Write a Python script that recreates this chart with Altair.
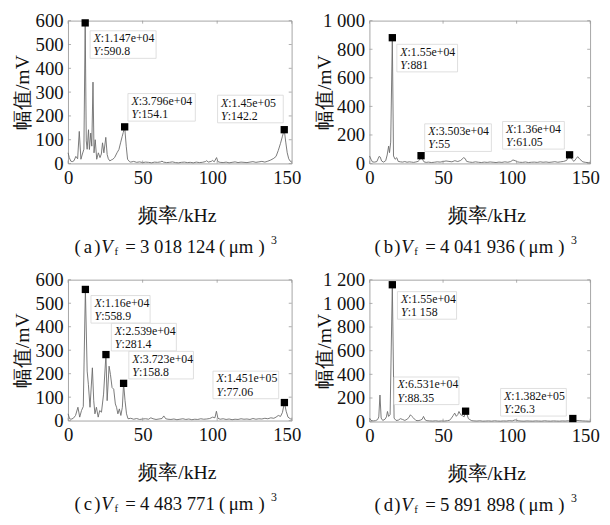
import altair as alt
import pandas as pd

# ---------------- data ----------------
X_TICKS = [0, 50, 100, 150]
X_TITLE = "频率/kHz"
Y_TITLE = "幅值/mV"

A_SPECTRUM = [(0, 45), (0.8, 25), (1.8, 10), (2.8, 8), (4, 12), (5.2, 30), (6.4, 20), (7.5, 135), (8.6, 18),
              (9.6, 40), (10.6, 60), (11.47, 590.8), (12.2, 95), (12.8, 60), (13.7, 142), (14.3, 59), (15.2, 128),
              (15.9, 73), (16.7, 342), (17.4, 45), (18.2, 100), (19.2, 18), (20.3, 45), (21.4, 25), (22.3, 40),
              (23.1, 87), (24.0, 45), (25.3, 110), (26.2, 38), (27.0, 20), (28.0, 11), (29.0, 15), (30.0, 18),
              (31.2, 25), (32.8, 45), (34.1, 59), (35.2, 87), (36.3, 114), (37.0, 130), (37.96, 154.1), (39.0, 73),
              (39.9, 18), (41.2, 8), (42, 6), (44, 9), (46, 5), (48, 7), (50, 4), (52, 6), (54, 5), (56, 3), (58, 6),
              (60, 5), (62, 7), (63, 10), (64, 6), (66, 4), (68, 5), (70, 7), (72, 4), (74, 3), (76, 5), (78, 6),
              (80, 4), (82, 5), (84, 3), (86, 6), (88, 4), (90, 5), (92, 8), (93, 12), (94, 6), (96, 9), (97, 13),
              (98, 7), (99.6, 25), (100.5, 8), (102, 5), (104, 4), (106, 6), (108, 3), (110, 5), (112, 7), (114, 4),
              (116, 6), (118, 5), (120, 4), (122, 6), (124, 8), (126, 5), (128, 7), (130, 9), (132, 6), (134, 10),
              (136, 15), (138, 22), (139.5, 30), (141, 55), (142.5, 85), (143.8, 115), (145, 142.2), (146, 90),
              (147, 45), (148, 20), (149, 10), (150, 6)]
A_MX = [11.47, 37.96, 145.0]
A_MY = [590.8, 154.1, 142.2]
A_LX = ["1.147e+04", "3.796e+04", "1.45e+05"]
A_LY = ["590.8", "154.1", "142.2"]
A_YTICKS = [0, 100, 200, 300, 400, 500, 600]

B_SPECTRUM = [(0, 53), (1, 30), (2, 11), (3.5, 10), (5, 14), (6.5, 50), (7.3, 45), (8.2, 18), (9.5, 10), (11, 20),
              (12, 60), (13, 122), (13.6, 76), (14.4, 150), (15.5, 881), (16.3, 53), (17.4, 30), (18.5, 41),
              (19.5, 15), (21, 12), (22.5, 10), (24, 14), (25.5, 9), (27, 12), (28.5, 10), (30, 8), (31.5, 11),
              (33, 15), (34, 25), (35.03, 55), (36, 30), (37, 12), (38.5, 8), (40, 10), (42, 7), (44, 9), (46, 12),
              (48, 10), (50, 14), (52, 18), (54, 15), (56, 12), (58, 20), (60, 14), (62, 22), (64, 41), (65, 35),
              (66, 15), (68, 10), (70, 8), (72, 12), (74, 9), (76, 7), (78, 10), (80, 8), (82, 11), (84, 9), (86, 7),
              (88, 10), (90, 8), (92, 12), (94, 9), (96, 14), (97.5, 25), (99, 20), (100.5, 12), (102, 9), (104, 8),
              (106, 11), (108, 7), (110, 9), (112, 10), (114, 8), (116, 12), (118, 9), (120, 11), (122, 8),
              (124, 10), (126, 13), (128, 9), (130, 12), (132, 15), (134, 22), (136, 61.05), (137.5, 30), (139, 15),
              (140.5, 35), (141.5, 48), (143, 30), (145, 12), (147, 8), (149, 6), (150, 5)]
B_MX = [15.5, 35.03, 136.0]
B_MY = [881, 55, 61.05]
B_LX = ["1.55e+04", "3.503e+04", "1.36e+04"]
B_LY = ["881", "55", "61.05"]
B_YTICKS = [0, 200, 400, 600, 800, 1000]

C_SPECTRUM = [(0, 29), (1, 8), (2, 6), (3.5, 10), (5, 22), (6.6, 57), (7.8, 15), (9, 43), (10.2, 60),
              (11.6, 558.9), (12.8, 211), (13.6, 155), (14.7, 57), (16.3, 225), (17.2, 85), (18, 29), (19, 57),
              (20.2, 15), (21.2, 43), (22.4, 36), (23.8, 113), (25.39, 281.4), (26.2, 85), (27.5, 232), (28.4, 197),
              (29.5, 141), (30.6, 134), (31.7, 71), (32.5, 57), (33.4, 29), (34.4, 50), (35.4, 22), (36.4, 57),
              (37.23, 158.8), (38.2, 85), (39.2, 29), (40.2, 8), (42, 10), (44, 6), (46, 9), (48, 5), (50, 7),
              (52, 8), (54, 6), (55.5, 12), (57, 8), (59, 5), (61, 7), (63, 9), (64.2, 20), (65.5, 8), (67, 6),
              (69, 5), (71, 7), (73, 4), (75, 6), (77, 8), (79, 5), (81, 7), (83, 4), (85, 6), (87, 5), (89, 8),
              (91, 6), (93, 7), (95, 9), (97, 15), (98.5, 12), (99.5, 40), (100.5, 10), (102, 6), (104, 8), (106, 5),
              (108, 7), (110, 4), (112, 6), (114, 5), (116, 8), (118, 6), (120, 7), (122, 5), (124, 9), (126, 6),
              (128, 8), (130, 7), (132, 10), (134, 8), (136, 12), (138, 10), (139.5, 15), (141, 22), (142.5, 18),
              (143.8, 35), (145.1, 77.06), (146.3, 40), (147.5, 15), (149, 8), (150, 6)]
C_MX = [11.6, 25.39, 37.23, 145.1]
C_MY = [558.9, 281.4, 158.8, 77.06]
C_LX = ["1.16e+04", "2.539e+04", "3.723e+04", "1.451e+05"]
C_LY = ["558.9", "281.4", "158.8", "77.06"]
C_YTICKS = [0, 100, 200, 300, 400, 500, 600]

D_SPECTRUM = [(0, 30), (1, 10), (2.5, 6), (4, 8), (5.5, 17), (6.3, 40), (7.1, 225), (7.9, 30), (9, 10),
              (10.5, 20), (11.5, 40), (12.2, 86), (13, 44), (14, 60), (15.5, 1158), (16.7, 30), (18, 10),
              (19.5, 12), (21, 25), (22.5, 18), (24, 10), (25.5, 20), (26.8, 35), (27.8, 58), (28.8, 44), (30, 30),
              (31.5, 10), (33, 8), (34.5, 12), (35.8, 20), (36.7, 44), (37.8, 15), (39, 8), (41, 6), (43, 5),
              (45, 7), (47, 4), (49, 6), (51, 5), (53, 8), (54.5, 12), (55.7, 30), (56.8, 50), (57.9, 72), (59, 45),
              (60, 60), (60.8, 86), (62, 58), (63.2, 50), (64.3, 40), (65.31, 88.35), (66.3, 60), (67.2, 25),
              (68.2, 17), (69.5, 8), (71, 6), (73, 5), (75, 7), (77, 4), (79, 5), (81, 6), (83, 4), (85, 7), (87, 5),
              (89, 4), (91, 6), (93, 5), (95, 8), (97, 6), (99, 15), (101, 7), (103, 5), (105, 4), (107, 6),
              (109, 5), (111, 4), (113, 6), (115, 5), (117, 4), (119, 7), (121, 5), (123, 4), (125, 6), (127, 5),
              (129, 4), (131, 6), (133, 5), (135, 7), (136.5, 5), (138.2, 26.3), (139.5, 6), (141, 10), (143, 8),
              (145, 6), (147, 5), (149, 4), (150, 3)]
D_MX = [15.5, 65.31, 138.2]
D_MY = [1158, 88.35, 26.3]
D_LX = ["1.55e+04", "6.531e+04", "1.382e+05"]
D_LY = ["1 158", "88.35", "26.3"]
D_YTICKS = [0, 200, 400, 600, 800, 1000, 1200]

CAP_LETTERS = ["a", "b", "c", "d"]
CAP_NUMBERS = ["3 018 124", "4 041 936", "4 483 771", "5 891 898"]

# ---------------- layout / style ----------------
SERIF = "Times New Roman, Liberation Serif, serif"
INK = "#111111"
GRAY = "#9a9a9a"
LINE = "#6a6a6a"
BOX_H = 28
PAD_X = 3.5
LINE1 = 7.5
LINE2 = 21

# per panel: width, height, y max, x-title shift, tip-box offsets (left px, top px from marker, box width)
LAYOUT = [
    dict(W=227, H=145, ymax=600, xt=-3,
         boxes=[(5, 8, 67), (3.3, -33.8, 68.4), (-67.7, -35, 66.7)]),
    dict(W=224, H=145, ymax=1000, xt=6.5,
         boxes=[(4.6, 6.7, 61.6), (3.7, -32.3, 67.7), (-68, -33.8, 62.7)]),
    dict(W=227, H=143, ymax=600, xt=-3,
         boxes=[(5.7, 6.2, 60), (5.5, -31.7, 66), (5.3, -32.5, 65.6), (-72.5, -31.9, 66.7)]),
    dict(W=224, H=144, ymax=1200, xt=6.5,
         boxes=[(5.2, 7, 60), (-72.7, -34.7, 66), (-73.3, -30.5, 66.7)]),
]

# caption pieces offsets (px from caption start)
CAP_NORMAL = [0, 9.4, 20, 51.5, 66.5, 146.7, 156.5, 186.7]
CAP_V = 27.2
CAP_SUB = 40.5
CAP_SUP = 199.5
CAP_WIDTH = 208


def text_piece(t, px, py, size, italic=False):
    kw = dict(font=SERIF, fontSize=size, align="left", baseline="alphabetic", color=INK)
    if italic:
        kw["fontStyle"] = "italic"
    return alt.Chart(pd.DataFrame({"t": [t]})).mark_text(**kw).encode(
        x=alt.value(px), y=alt.value(py), text="t:N")


def panel(spectrum, MX, MY, LX, LY, yticks, letter, number, lay):
    W, H, ymax = lay["W"], lay["H"], lay["ymax"]
    sx, sy = W / 150.0, H / ymax
    xs = alt.Scale(domain=[0, 150], nice=False, zero=False)
    ys = alt.Scale(domain=[0, ymax], nice=False, zero=False)

    common = dict(labelFont=SERIF, labelFontSize=19, labelColor=INK,
                  titleFont=SERIF, titleFontSize=20, titleFontWeight="normal", titleColor=INK,
                  domain=False, ticks=False, grid=False, labelOverlap=False, labelPadding=5)
    xaxis = alt.Axis(values=X_TICKS, title=X_TITLE, labelFlush=False,
                     labelOffset={"condition": {"test": "datum.value >= 100", "value": -5}, "value": 0},
                     titleX=W / 2 + lay["xt"], titleY=59, titleAlign="center", titleBaseline="alphabetic",
                     **common)
    yaxis = alt.Axis(values=yticks, title=Y_TITLE,
                     labelExpr="replace(format(datum.value, ','), ',', ' ')",
                     titleX=-46, titleY=H / 2, titleAngle=270, titleAlign="center", titleBaseline="middle",
                     **common)

    def X(field):
        return alt.X(field, scale=xs, axis=xaxis)

    def Y(field):
        return alt.Y(field, scale=ys, axis=yaxis)

    line_df = pd.DataFrame(spectrum, columns=["f", "v"])
    line = alt.Chart(line_df).mark_line(color=LINE, strokeWidth=0.9).encode(x=X("f:Q"), y=Y("v:Q"))

    xt = pd.DataFrame({"t": X_TICKS})
    yt = pd.DataFrame({"t": yticks})
    tk = dict(color=GRAY, strokeWidth=0.8)
    ticks = [
        alt.Chart(xt).mark_rule(**tk).encode(x=X("t:Q"), y=alt.value(H), y2=alt.value(H - 3)),
        alt.Chart(xt).mark_rule(**tk).encode(x=X("t:Q"), y=alt.value(0), y2=alt.value(3)),
        alt.Chart(yt).mark_rule(**tk).encode(y=Y("t:Q"), x=alt.value(0), x2=alt.value(3)),
        alt.Chart(yt).mark_rule(**tk).encode(y=Y("t:Q"), x=alt.value(W - 3), x2=alt.value(W)),
    ]

    rows = []
    for f, v, lx, ly, (dxl, dyt, bw) in zip(MX, MY, LX, LY, lay["boxes"]):
        rows.append(dict(
            bx=f + dxl / sx, bx2=f + (dxl + bw) / sx,
            by=v - dyt / sy, by2=v - (dyt + BOX_H) / sy,
            tx=f + (dxl + PAD_X) / sx,
            ty1=v - (dyt + LINE1) / sy, ty2=v - (dyt + LINE2) / sy,
            lx=":" + lx, ly=":" + ly, mf=f, mv=v))
    ann = pd.DataFrame(rows)

    boxes = alt.Chart(ann).mark_rect(fill="white", stroke="#d6d6d6", strokeWidth=0.8).encode(
        x=X("bx:Q"), x2="bx2:Q", y=Y("by:Q"), y2="by2:Q")
    tstyle = dict(font=SERIF, fontSize=12, align="left", baseline="middle", color=INK)
    tX = alt.Chart(ann).mark_text(fontStyle="italic", **tstyle).encode(
        x=X("tx:Q"), y=Y("ty1:Q"), text=alt.value("X"))
    tXr = alt.Chart(ann).mark_text(dx=7.4, **tstyle).encode(x=X("tx:Q"), y=Y("ty1:Q"), text="lx:N")
    tY = alt.Chart(ann).mark_text(fontStyle="italic", **tstyle).encode(
        x=X("tx:Q"), y=Y("ty2:Q"), text=alt.value("Y"))
    tYr = alt.Chart(ann).mark_text(dx=6.9, **tstyle).encode(x=X("tx:Q"), y=Y("ty2:Q"), text="ly:N")
    marks = alt.Chart(ann).mark_square(size=55, color="black", opacity=1).encode(x=X("mf:Q"), y=Y("mv:Q"))

    start = W / 2 - 3 - CAP_WIDTH / 2
    cy = H + 91
    normal = ["(", letter, ")", "=", number, "(", "μm", ")"]
    caps = [text_piece(t, start + o, cy, 19) for t, o in zip(normal, CAP_NORMAL)]
    caps.append(text_piece("V", start + CAP_V, cy, 19, italic=True))
    caps.append(text_piece("f", start + CAP_SUB, cy + 2, 11))
    caps.append(text_piece("3", start + CAP_SUP, cy - 9, 12))

    return alt.layer(line, *ticks, boxes, tX, tXr, tY, tYr, marks, *caps).properties(width=W, height=H)


pa = panel(A_SPECTRUM, A_MX, A_MY, A_LX, A_LY, A_YTICKS, CAP_LETTERS[0], CAP_NUMBERS[0], LAYOUT[0])
pb = panel(B_SPECTRUM, B_MX, B_MY, B_LX, B_LY, B_YTICKS, CAP_LETTERS[1], CAP_NUMBERS[1], LAYOUT[1])
pc = panel(C_SPECTRUM, C_MX, C_MY, C_LX, C_LY, C_YTICKS, CAP_LETTERS[2], CAP_NUMBERS[2], LAYOUT[2])
pd_ = panel(D_SPECTRUM, D_MX, D_MY, D_LX, D_LY, D_YTICKS, CAP_LETTERS[3], CAP_NUMBERS[3], LAYOUT[3])

chart = alt.concat(pa, pb, pc, pd_, columns=2, spacing={"row": 118, "column": 79}, bounds="flush").properties(
    padding={"left": 4, "top": -1, "right": 2, "bottom": 2},
    background="white",
).configure_view(
    stroke=GRAY, strokeWidth=0.9
).configure_axis(
    labelFont=SERIF, titleFont=SERIF,
)

chart.save("out.html", embed_options={"renderer": "svg", "actions": False})
